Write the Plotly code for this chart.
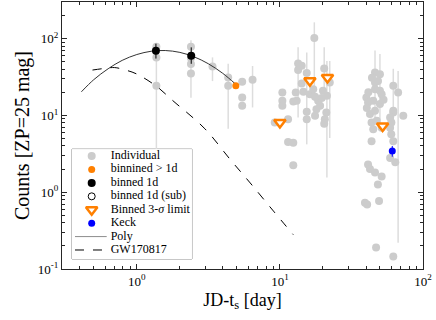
""" Light curve: counts vs time since merger """

import numpy as np
import plotly.graph_objects as go

#### values ####

# individual measurements: time [day], counts, upper / lower end of error bar (0 = none)
ind_t = [1.37, 1.37, 1.37, 2.39, 2.39, 2.39, 2.39, 3.38, 4.35, 4.35, 5.45, 5.45, 5.45, 6.44,
         17.4, 13.4, 14.2, 13.4, 15.4, 20.4, 22.3, 14.2, 10.4, 12.9, 14.6, 16.2, 17.1, 20.0, 21.3,
         10.4, 10.4, 12.4, 13.1, 18.5, 19.1, 18.0, 15.4, 17.6, 15.4, 21.1, 20.6, 20.4,
         11.4, 9.2, 11.4, 12.4, 12.4, 17.6, 19.6,
         46.2, 50.0, 46.2, 46.2, 50.0, 51.4, 40.2, 41.3, 44.9, 50.0, 42.6, 46.2, 43.7, 44.9, 51.4,
         62.0, 67.0, 62.0, 62.0, 72.8, 58.9, 60.1, 58.9, 60.0, 62.0, 58.9, 64.0,
         43.7, 41.3, 42.6, 46.2, 51.4, 48.4, 39.3, 40.7, 49.3, 47.0, 62.0,
         41.5, 44.0, 48.5, 53.0, 47.5, 40.5]
ind_c = [78.6, 57.0, 24.3, 78.6, 56.0, 46.8, 35.2, 43.5, 31.2, 24.3, 27.4, 17.1, 13.4, 29.1,
         102, 47.5, 44.4, 39.0, 35.6, 40.9, 26.9, 26.1, 19.9, 19.9, 20.4, 18.9, 22.0, 20.9, 18.0,
         15.5, 13.4, 15.2, 15.5, 15.5, 13.4, 12.0, 11.2, 9.9, 8.9, 10.9, 8.9, 7.8,
         8.9, 8.1, 4.5, 4.4, 2.25, 17.5, 16.8,
         36.3, 34.5, 26.9, 22.0, 20.9, 18.9, 17.1, 14.7, 15.5, 14.1, 10.4, 11.5, 8.1, 6.6, 6.9,
         24.3, 19.9, 11.5, 10.9, 9.9, 9.4, 8.1, 6.9, 5.7, 4.6, 2.8, 2.45,
         4.6, 2.3, 2.0, 1.8, 1.6, 1.26, 0.73, 0.69, 0.77, 0.19, 0.146,
         20.0, 31.0, 28.0, 16.0, 8.5, 12.5]
ind_hi = [0, 0, 86, 0, 0, 0, 95, 57, 0, 47, 0, 0, 0, 44,
          163, 0, 0, 77, 66, 77, 51, 0, 0, 0, 0, 0, 0, 0, 51,
          0, 0, 0, 0, 0, 0, 0, 0, 0, 0, 0, 0, 0,
          0, 0, 0, 0, 0, 0, 0,
          0, 0, 70, 0, 63, 0, 0, 0, 0, 0, 0, 0, 0, 0, 0,
          40.5, 38, 0, 0, 0, 0, 0, 0, 0, 0, 0, 0,
          0, 0, 0, 0, 0, 0, 0, 0, 0, 0, 0,
          0, 0, 0, 0, 0, 0]
ind_lo = [0, 0, 1.4, 0, 0, 0, 17, 28, 0, 6.7, 0, 0, 0, 12.7,
          15.5, 0, 0, 9.4, 4.2, 15.5, 5.1, 0, 0, 0, 0, 0, 0, 0, 1.55,
          0, 0, 0, 0, 0, 0, 0, 0, 0, 0, 0, 0, 0,
          0, 0, 0, 0, 0, 0, 0,
          0, 0, 8.1, 0, 6.3, 0, 0, 0, 0, 0, 0, 0, 0, 0, 0,
          8.5, 0.22, 0, 0, 0, 0, 0, 0, 0, 0, 0, 0,
          0, 0, 0, 0, 0, 0, 0, 0, 0, 0, 0,
          0, 0, 0, 0, 0, 0]

# binned 1d
b1_t = [1.36, 2.40]
b1_c = [69.8, 60.0]
b1_hi = [86, 77]
b1_lo = [55, 47]

# binned > 1d
bl_t = [4.92]
bl_c = [24.3]

# binned 3-sigma limits
lim_t = [10.0, 16.2, 21.5, 52.2]
lim_c = [8.1, 28.3, 31.2, 7.3]

# Keck
keck_t = [61.0]
keck_c = [3.44]
keck_hi = [4.0]
keck_lo = [2.9]

# polynomial fit
poly_t = [0.41, 0.50, 0.63, 0.79, 1.00, 1.26, 1.58, 2.00, 2.51, 3.16, 3.98, 4.90]
poly_c = [20.3, 29.2, 40.5, 52.1, 62.1, 68.5, 70.0, 66.2, 58.0, 47.1, 35.4, 25.6]

# GW170817 comparison
gw_t = [0.49, 0.60, 0.70, 0.85, 1.00, 1.37, 1.79, 2.99, 4.50, 6.20, 9.00, 12.4]
gw_c = [39.0, 41.0, 42.0, 38.6, 34.6, 24.0, 15.5, 6.7, 2.66, 1.32, 0.57, 0.28]

leg_labels = ["Individual", "binnined > 1d", "binned 1d", "binned 1d (sub)",
              "Binned 3-<i>σ</i> limit", "Keck", "Poly", "GW170817"]

#### styles ####
FONT = "Liberation Serif"
GREY = "#cccccc"
ORANGE = "#ff8000"
AX = "#262626"

st_ind = dict(size=8, color=GREY)
st_b1 = dict(size=8, color="black")
st_sub = dict(size=7, color="white", line=dict(color="black", width=1))
st_bl = dict(size=7, color=ORANGE)
st_lim = dict(size=10, symbol="triangle-down", color="white", line=dict(color=ORANGE, width=2.5))
st_keck = dict(size=7, color="blue")
ln_poly = dict(color="#333333", width=1)
ln_gw = dict(color="black", width=1, dash="dash")


def errs(c, hi, lo):
    c = np.array(c, float)
    hi = np.array(hi, float)
    lo = np.array(lo, float)
    plus = np.where(hi > 0, hi - c, 0)
    minus = np.where(lo > 0, c - lo, 0)
    return plus, minus


fig = go.Figure()

p, m = errs(ind_c, ind_hi, ind_lo)
fig.add_trace(go.Scatter(x=ind_t, y=ind_c, mode="markers", marker=st_ind,
                         error_y=dict(type="data", symmetric=False, array=p, arrayminus=m,
                                      color="#dddddd", thickness=1.5, width=0)))
fig.add_trace(go.Scatter(x=poly_t, y=poly_c, mode="lines", line=ln_poly, line_shape="spline"))
fig.add_trace(go.Scatter(x=gw_t, y=gw_c, mode="lines", line=ln_gw, line_shape="spline"))

p, m = errs(b1_c, b1_hi, b1_lo)
fig.add_trace(go.Scatter(x=b1_t, y=b1_c, mode="markers", marker=st_b1,
                         error_y=dict(type="data", symmetric=False, array=p, arrayminus=m,
                                      color="black", thickness=1, width=0)))
fig.add_trace(go.Scatter(x=bl_t, y=bl_c, mode="markers", marker=st_bl))
fig.add_trace(go.Scatter(x=lim_t, y=lim_c, mode="markers", marker=st_lim))
p, m = errs(keck_c, keck_hi, keck_lo)
fig.add_trace(go.Scatter(x=keck_t, y=keck_c, mode="markers", marker=st_keck,
                         error_y=dict(type="data", symmetric=False, array=p, arrayminus=m,
                                      color="blue", thickness=1, width=0)))

######## hand made legend (own little axes) ########
n = len(leg_labels)
rows = list(range(n))
mk_x, txt_x, ln_x = 19.7, 38.7, [3, 34.7]
marker_styles = [st_ind, st_bl, st_b1, st_sub, st_lim, st_keck]
for i, st in enumerate(marker_styles):
    fig.add_trace(go.Scatter(x=[mk_x], y=[rows[i]], mode="markers", marker=st,
                             xaxis="x2", yaxis="y2"))
fig.add_trace(go.Scatter(x=ln_x, y=[rows[6]] * 2, mode="lines", line=dict(color="#8c8c8c", width=1),
                         xaxis="x2", yaxis="y2"))
fig.add_trace(go.Scatter(x=ln_x, y=[rows[7]] * 2, mode="lines", line=ln_gw,
                         xaxis="x2", yaxis="y2"))
fig.add_trace(go.Scatter(x=[txt_x] * n, y=rows, mode="text", text=leg_labels,
                         textposition="middle right",
                         textfont=dict(family=FONT, size=12, color="black"),
                         xaxis="x2", yaxis="y2"))
fig.add_shape(type="rect", xref="x2 domain", yref="y2 domain", x0=0, x1=1, y0=0, y1=1,
              fillcolor="white", line=dict(color="#8c8c8c", width=1), layer="below")

fig.update_traces(showlegend=False, hoverinfo="skip")

minor_x = [k * 10.0 ** e for e in (-1, 0, 1) for k in range(2, 10)]
minor_y = [k * 10.0 ** e for e in (-1, 0, 1, 2) for k in range(2, 10)]
axis_common = dict(type="log", showline=True, linecolor=AX, linewidth=1, mirror="allticks",
                   ticks="inside", ticklen=5, tickcolor=AX, showgrid=False, zeroline=False,
                   automargin=False,
                   tickfont=dict(family=FONT, size=13, color="black"))

fig.update_layout(
    width=436, height=320,
    margin=dict(l=62, r=13, t=2, b=51),
    font=dict(family=FONT, color="black"),
    plot_bgcolor="white", paper_bgcolor="white",
    xaxis=dict(axis_common, range=[np.log10(0.3), 2],
               tickmode="array", tickvals=[1, 10, 100],
               ticktext=["10<sup>0</sup>", "10<sup>1</sup>", "10<sup>2</sup>"],
               minor=dict(tickmode="array", tickvals=minor_x, ticks="inside", ticklen=3,
                          tickcolor=AX, showgrid=False),
               title=dict(text="JD-t<sub>s</sub> [day]", font=dict(family=FONT, size=18, color="black"),
                          standoff=5)),
    yaxis=dict(axis_common, range=[-1, np.log10(300)],
               tickmode="array", tickvals=[0.1, 1, 10, 100],
               ticktext=["10<sup>-1</sup>", "10<sup>0</sup>", "10<sup>1</sup>", "10<sup>2</sup>"],
               minor=dict(tickmode="array", tickvals=minor_y, ticks="inside", ticklen=3,
                          tickcolor=AX, showgrid=False),
               title=dict(text="Counts [ZP=25 mag]", font=dict(family=FONT, size=20, color="black"),
                          standoff=2)),
    xaxis2=dict(domain=[0.0277, 0.360], range=[0, 120], visible=False, anchor="y2"),
    yaxis2=dict(domain=[0.0375, 0.449], range=[n - 0.33, -0.52], visible=False, anchor="x2"),
)

# page body has a default margin; drop it so the figure sits at the window corner
fig.write_html("out.html", config={"displayModeBar": False},
               post_script="document.body.style.margin = '0';")
